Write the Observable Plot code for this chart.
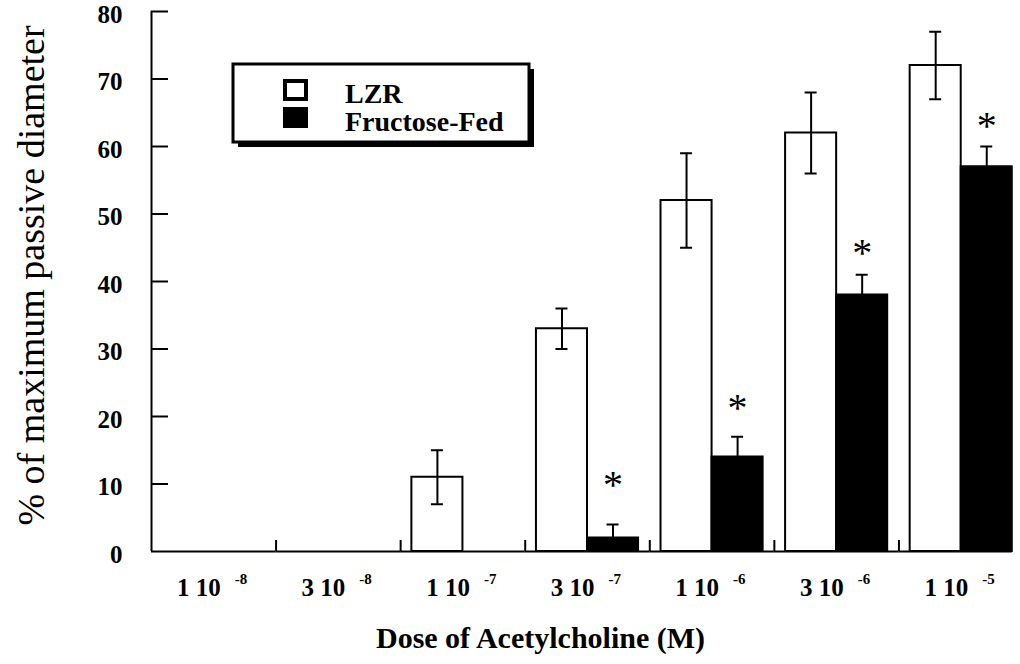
<!DOCTYPE html>
<html>
<head>
<meta charset="utf-8">
<script src="https://cdn.jsdelivr.net/npm/d3@7"></script>
<script src="https://cdn.jsdelivr.net/npm/@observablehq/plot@0.6"></script>
<style>
  html, body { margin: 0; padding: 0; background: #fff; overflow: hidden; }
  #wrap { position: relative; width: 1020px; height: 664px; overflow: hidden; }
  #legend { position: absolute; left: 0; top: 0; pointer-events: none; }
</style>
</head>
<body>
<div id="wrap"></div>
<script>
// ---- data ----
const doses = ["1e-8", "3e-8", "1e-7", "3e-7", "1e-6", "3e-6", "1e-5"];
const doseMantissa = ["1", "3", "1", "3", "1", "3", "1"];
const doseExponent = ["-8", "-8", "-7", "-7", "-6", "-6", "-5"];
const series = ["LZR", "Fructose-Fed"];
const lzrMean = [0, 0, 11, 33, 52, 62, 72];
const lzrSE = [0, 0, 4, 3, 7, 6, 5];
const fructoseMean = [0, 0, 0, 2, 14, 38, 57];
const fructoseSE = [0, 0, 0, 2, 3, 3, 3];
const significance = ["", "", "", "*", "*", "*", "*"];
const starLevel = [null, null, null, 10.8, 22.3, 45.3, 64.1];
const yTicks = [0, 10, 20, 30, 40, 50, 60, 70, 80];
const yLabel = "% of maximum passive diameter";
const xLabel = "Dose of Acetylcholine (M)";

// ---- layout ----
const W = 1020, H = 664;
const M = {top: 11, right: -3, bottom: 113, left: 151};
const groupW = (W - M.left - M.right) / doses.length;
const barPad = 0.22;
const barW = groupW / (series.length + 2 * barPad);
const capW = 12;
const capInset = (barW - capW) / 2;
const toGroupEdge = -(barPad + 0.5) * barW;
const plotH = H - M.top - M.bottom;
const serif = "'Liberation Serif', 'Times New Roman', Times, serif";

const rows = doses.flatMap((dose, i) => [
  {dose, series: series[0], mean: lzrMean[i], se: lzrSE[i]},
  {dose, series: series[1], mean: fructoseMean[i], se: fructoseSE[i]}
]);
const bars = rows.filter(d => d.mean > 0);
const errs = rows.filter(d => d.se > 0);
const caps = errs.flatMap(d => d.series === series[0]
  ? [{...d, v: d.mean + d.se}, {...d, v: d.mean - d.se}]
  : [{...d, v: d.mean + d.se}]);
const stars = doses.map((dose, i) => ({dose, sig: significance[i], level: starLevel[i]})).filter(d => d.sig);
const doseLabels = doses.map((dose, i) => ({dose, mantissa: doseMantissa[i], exponent: doseExponent[i]}));
const lastDose = doses[doses.length - 1];

const chart = Plot.plot({
  width: W, height: H,
  marginTop: M.top, marginRight: M.right, marginBottom: M.bottom, marginLeft: M.left,
  style: {fontFamily: serif, background: "white", color: "black", overflow: "visible"},
  fx: {domain: doses, padding: 0, round: false, axis: null},
  x: {domain: series, paddingInner: 0, paddingOuter: barPad, round: false, axis: null},
  y: {domain: [yTicks[0], yTicks[yTicks.length - 1]], axis: null},
  color: {domain: series, range: ["white", "black"]},
  marks: [
    Plot.barY(bars, {fx: "dose", x: "series", y: "mean", fill: "series", stroke: "black", strokeWidth: 2}),
    Plot.ruleX(errs, {fx: "dose", x: "series",
      y1: d => d.series === series[0] ? d.mean - d.se : d.mean,
      y2: d => d.mean + d.se, stroke: "black", strokeWidth: 2}),
    Plot.tickY(caps, {fx: "dose", x: "series", y: "v", insetLeft: capInset, insetRight: capInset, stroke: "black", strokeWidth: 2}),
    // x baseline
    Plot.ruleY(doses.slice(0, -1), {fx: d => d, y: () => 0, stroke: "black", strokeWidth: 2}),
    Plot.ruleY([lastDose], {fx: d => d, y: () => 0, insetRight: barPad * barW, stroke: "black", strokeWidth: 2}),
    // ticks between dose groups
    Plot.ruleX(doses.slice(1), {fx: d => d, x: () => series[0], dx: toGroupEdge, insetTop: plotH - 11, stroke: "black", strokeWidth: 2}),
    // y axis line and inward ticks
    Plot.ruleX([doses[0]], {fx: d => d, x: () => series[0], dx: toGroupEdge, y1: () => yTicks[0], y2: () => yTicks[yTicks.length - 1], stroke: "black", strokeWidth: 2}),
    Plot.ruleY(yTicks.slice(1), {fx: () => doses[0], insetRight: groupW - 17, stroke: "black", strokeWidth: 2}),
    // y tick labels
    Plot.text(yTicks, {fx: () => doses[0], y: d => d, frameAnchor: "left", textAnchor: "end", dx: -29, dy: 3,
      fontSize: 25, fontWeight: "bold", fill: "black"}),
    // x tick labels with exponents
    Plot.text(doseLabels, {fx: "dose", frameAnchor: "bottom", text: d => d.mantissa + " 10", textAnchor: "end",
      lineAnchor: "bottom", dx: 7, dy: 44, fontSize: 25, fontWeight: "bold", fill: "black"}),
    Plot.text(doseLabels, {fx: "dose", frameAnchor: "bottom", text: "exponent", textAnchor: "start",
      lineAnchor: "bottom", dx: 21, dy: 32, fontSize: 15, fontWeight: "bold", fill: "black"}),
    // significance stars
    Plot.text(stars, {fx: "dose", x: () => series[1], y: "level", text: "sig", dy: 7, fontSize: 40, fill: "black"}),
    // axis titles
    Plot.text([yLabel], {fx: () => doses[0], frameAnchor: "left", rotate: -90, textAnchor: "middle", lineAnchor: "bottom",
      dx: -108, dy: -6, fontSize: 38, fill: "black"}),
    Plot.text([xLabel], {fx: () => doses[3], frameAnchor: "bottom", textAnchor: "middle", lineAnchor: "bottom",
      dx: -47, dy: 96, fontSize: 30, fontWeight: "bold", fill: "black"})
  ]
});

const wrap = document.getElementById("wrap");
wrap.appendChild(chart);

// ---- legend (boxed, with drop shadow) ----
const lg = d3.select(wrap).append("svg").attr("id", "legend").attr("width", W).attr("height", H)
  .style("font-family", serif);
const box = {x: 233, y: 64, w: 296, h: 78, shadow: 5};
lg.append("rect").attr("x", box.x + box.shadow).attr("y", box.y + box.shadow)
  .attr("width", box.w).attr("height", box.h).attr("fill", "black");
lg.append("rect").attr("x", box.x).attr("y", box.y).attr("width", box.w).attr("height", box.h)
  .attr("fill", "white").attr("stroke", "black").attr("stroke-width", 3);
const entry = lg.selectAll("g.entry").data(series).join("g").attr("class", "entry")
  .attr("transform", (d, i) => `translate(0,${i * 28})`);
entry.append("rect")
  .attr("x", (d, i) => i === 0 ? 285 : 283).attr("y", (d, i) => i === 0 ? 81 : 79)
  .attr("width", (d, i) => i === 0 ? 21 : 25).attr("height", (d, i) => i === 0 ? 18 : 21)
  .attr("fill", d => d === series[0] ? "white" : "black")
  .attr("stroke", "black").attr("stroke-width", (d, i) => i === 0 ? 4 : 0);
entry.append("text").attr("x", 345).attr("y", 103).attr("font-size", 28).attr("font-weight", "bold")
  .attr("fill", "black").text(d => d);
</script>
</body>
</html>
